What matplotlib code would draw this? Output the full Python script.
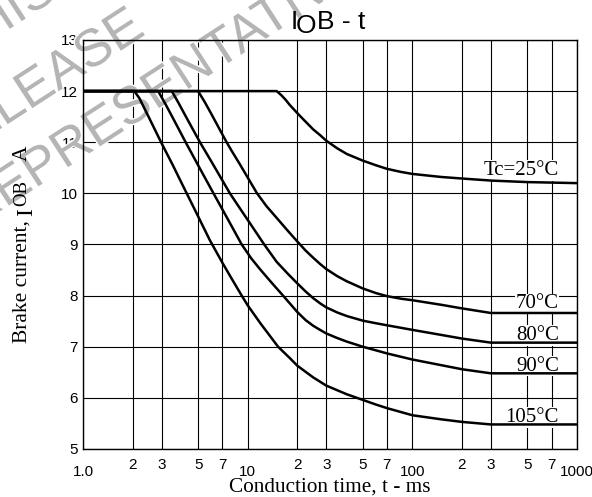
import matplotlib
matplotlib.use("Agg")
import matplotlib.pyplot as plt
import matplotlib.patheffects as pe

# conduction time (ms) / brake current (A)
t_25 = [1, 15, 16, 17, 18, 20, 22.5, 25, 27.5, 30, 35, 40, 50, 60, 70, 85, 100, 150, 200, 300, 500, 1000]
i_25 = [12, 12, 11.92, 11.83, 11.73, 11.57, 11.4, 11.25, 11.14, 11.03, 10.88, 10.77, 10.64, 10.55,
        10.48, 10.42, 10.38, 10.32, 10.29, 10.25, 10.22, 10.2]

t_70 = [1, 5.0, 5.5, 6, 7, 7.45, 8, 9, 10, 11.4, 13, 15, 17.5, 20, 22.5, 25, 27.5, 30, 35, 40, 50,
        60, 70, 85, 100, 150, 200, 300, 1000]
i_70 = [12, 12, 11.78, 11.56, 11.16, 11.0, 10.83, 10.56, 10.31, 10.0, 9.75, 9.52, 9.27, 9.06, 8.88,
        8.74, 8.62, 8.52, 8.38, 8.28, 8.14, 8.05, 7.99, 7.94, 7.91, 7.82, 7.75, 7.66, 7.66]

t_80 = [1, 3.46, 3.8, 4.3, 5.13, 6, 7, 7.8, 9, 10.5, 12.6, 15, 17.5, 20, 22.5, 25, 27.5, 30, 35, 40,
        50, 60, 70, 100, 200, 300, 1000]
i_80 = [12, 12, 11.77, 11.45, 11.0, 10.63, 10.26, 10.0, 9.7, 9.38, 9.0, 8.66, 8.43, 8.24, 8.08, 7.95,
        7.85, 7.77, 7.67, 7.6, 7.51, 7.46, 7.42, 7.33, 7.16, 7.08, 7.08]

t_90 = [1, 2.86, 3.2, 3.6, 4.2, 5, 6.2, 7.5, 9.2, 10.5, 12, 14, 16.4, 18, 20, 22.5, 25, 27.5, 30, 35,
        40, 50, 60, 70, 100, 200, 300, 1000]
i_90 = [12, 12, 11.72, 11.41, 11.0, 10.55, 10.0, 9.52, 9.0, 8.73, 8.5, 8.25, 8.0, 7.85, 7.68, 7.52,
        7.41, 7.33, 7.26, 7.17, 7.1, 7.0, 6.93, 6.87, 6.75, 6.56, 6.48, 6.48]

t_105 = [1, 2.05, 2.2, 2.5, 3, 3.5, 4, 5, 5.9, 7, 8, 9.2, 10, 12, 15.3, 18, 20, 25, 30, 40, 50, 60,
         70, 100, 150, 200, 300, 1000]
i_105 = [12, 12, 11.86, 11.5, 10.98, 10.56, 10.18, 9.55, 9.08, 8.65, 8.33, 8.0, 7.81, 7.45, 7.0,
         6.78, 6.63, 6.4, 6.24, 6.07, 5.96, 5.87, 5.8, 5.66, 5.58, 5.53, 5.48, 5.48]

curve_labels = ["Tc=25°C", "70°C", "80°C", "90°C", "105°C"]

x_major = [1, 10, 100, 1000]
x_major_labels = ["1.0", "10", "100", "1000"]
x_minor = [2, 3, 5, 7, 20, 30, 50, 70, 200, 300, 500, 700]
x_minor_labels = ["2", "3", "5", "7"] * 3
y_ticks = [5, 6, 7, 8, 9, 10, 11, 12, 13]

SANS = ["Liberation Sans", "DejaVu Sans"]
SERIF = ["Liberation Serif", "DejaVu Serif"]
plt.rcParams["font.family"] = SANS

fig = plt.figure(figsize=(5.92, 4.97), dpi=100)
ax = fig.add_axes([0.1402, 0.0966, 0.8345, 0.823])
ax.set_facecolor("none")

curves = [(t_25, i_25), (t_70, i_70), (t_80, i_80), (t_90, i_90), (t_105, i_105)]
label_dy = [0.16, 0.09, 0.05, 0.05, 0.05]
for (t, i), lab, dy in zip(curves, curve_labels, label_dy):
    ax.plot(t, i, color="black", lw=1.8, zorder=3, solid_joinstyle="round")
    ax.text(775, i[-1] + dy, lab, ha="right", va="baseline", fontsize=15,
            family=SERIF, zorder=2.6,
            bbox=dict(facecolor="white", edgecolor="none", pad=0.5))

ax.set_xscale("log")
ax.set_xlim(1, 1000)
ax.set_ylim(5, 13)
ax.set_xticks(x_major)
ax.set_xticklabels(x_major_labels)
ax.set_xticks(x_minor, minor=True)
ax.set_xticklabels(x_minor_labels, minor=True)
ax.set_yticks(y_ticks)
ax.set_yticklabels([str(v) for v in y_ticks])
ax.tick_params(axis="x", which="major", length=0, pad=11.5, labelsize=11)
ax.tick_params(axis="x", which="minor", length=0, pad=6.5, labelsize=11)
ax.tick_params(axis="y", length=0, pad=4, labelsize=11)
ax.set_axisbelow(True)
ax.grid(True, which="both", color="black", lw=0.8)
for s in ax.spines.values():
    s.set_linewidth(1.0)
    s.set_zorder(2.5)

ax.set_xlabel("Conduction time, t - ms", family=SERIF, fontsize=15.3)
ax.xaxis.set_label_coords(0.5, -0.071)

# y label built in pieces: the I sits low, OB is a bit smaller
yl = dict(rotation=90, rotation_mode="anchor", ha="left", va="baseline", family=SERIF)
fig.text(0.0456, 0.3099, "Brake current,", fontsize=15.5, **yl)
fig.text(0.0550, 0.5654, "I", fontsize=17, **yl)
fig.text(0.0445, 0.5855, "OB", fontsize=13.5, **yl)
fig.text(0.0456, 0.676, "A", fontsize=15.5, **yl)

# title I_OB - t, with the O dropped a little
fig.text(0.4916, 0.941, "I", fontsize=19, va="baseline")
fig.text(0.500, 0.9336, "O", fontsize=19, va="baseline")
fig.text(0.536, 0.941, "B - t", fontsize=19, va="baseline")

# watermark
wm = dict(fontsize=38, color="#b5b5b8", rotation=33, rotation_mode="anchor",
          ha="left", va="baseline", transform=fig.transFigure, zorder=1,
          clip_on=False, path_effects=[pe.withStroke(linewidth=2, foreground="white")])
ax.text(-0.07, 0.875, "THIS", **wm)
ax.text(-0.097, 0.665, "RELEASE", **wm)
ax.text(-0.045, 0.540, "REPRESENTATIVE", **wm)

fig.savefig("out.png", dpi=100)
